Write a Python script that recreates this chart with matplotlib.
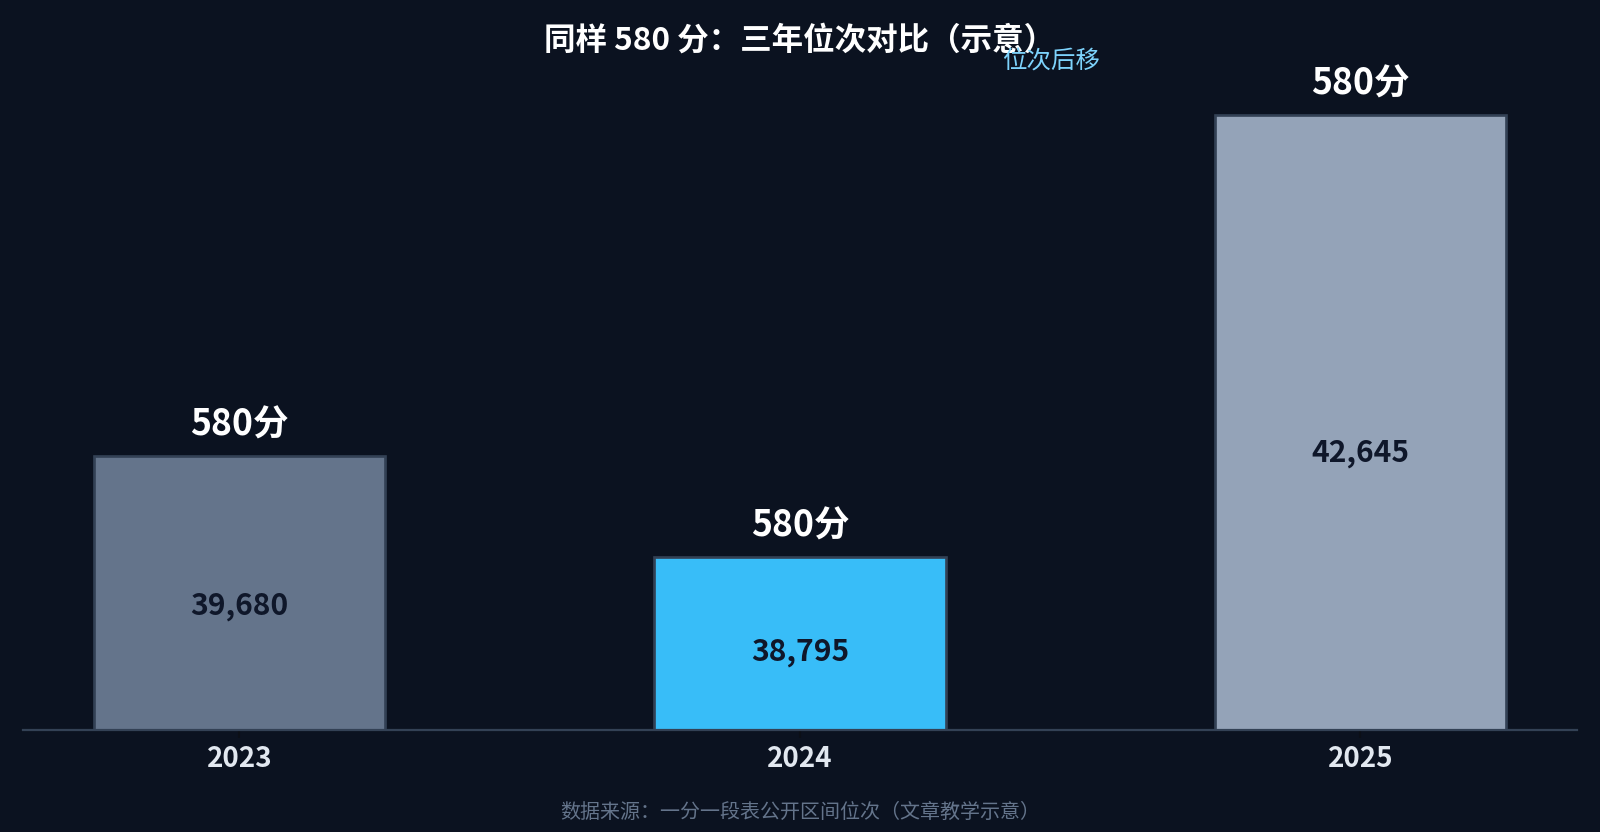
import matplotlib
matplotlib.use("Agg")
import matplotlib.pyplot as plt

plt.rcParams['font.family'] = ['Noto Sans CJK SC', 'DejaVu Sans']

years = ["2023", "2024", "2025"]
ranks = [39680, 38795, 42645]
score_labels = ["580分", "580分", "580分"]
bar_colors = ["#64748b", "#38bdf8", "#94a3b8"]
title = "同样 580 分：三年位次对比（示意）"
note = "位次后移"
source = "数据来源：一分一段表公开区间位次（文章教学示意）"

BG = "#0b1220"
fig = plt.figure(figsize=(10, 5.2), dpi=160, facecolor=BG)
ax = fig.add_axes([0.0144, 0.1231, 0.971, 0.80])
ax.set_facecolor(BG)

x = list(range(len(years)))
bars = ax.bar(x, ranks, width=0.52, color=bar_colors, edgecolor="#334155", linewidth=1.2)

ymin = min(ranks) - 1500
ymax = max(ranks) * 1.0105
ax.set_ylim(ymin, ymax)

for xi, v, s in zip(x, ranks, score_labels):
    ax.text(xi, ymin + (v - ymin) * 0.45, f"{v:,}", ha="center", va="center",
            fontsize=13.5, fontweight="bold", color="#0f172a")
    ax.annotate(s, (xi, v), xytext=(0, 14), textcoords="offset points",
                ha="center", va="center", fontsize=16, fontweight="bold", color="white")

ax.set_xticks(x)
ax.set_xticklabels(years, fontsize=12.5, fontweight="bold", color="#e2e8f0")
ax.tick_params(axis="x", colors="#0b0f17", labelcolor="#e2e8f0", length=3.5, width=1)
ax.set_yticks([])
for side in ["left", "right", "top"]:
    ax.spines[side].set_visible(False)
ax.spines["bottom"].set_color("#334155")
ax.spines["bottom"].set_linewidth(1)

fig.text(0.5, 1 - 41 / 832, title, ha="center", va="center", fontsize=14.2,
         fontweight="bold", color="white")
fig.text(1051 / 1600, 1 - 62 / 832, note, ha="center", va="center", fontsize=11,
         color="#7dd3fc")
fig.text(0.5, 1 - 812 / 832, source, ha="center", va="center", fontsize=9,
         color="#64748b")

fig.savefig("out.png", dpi=160, facecolor=BG)
